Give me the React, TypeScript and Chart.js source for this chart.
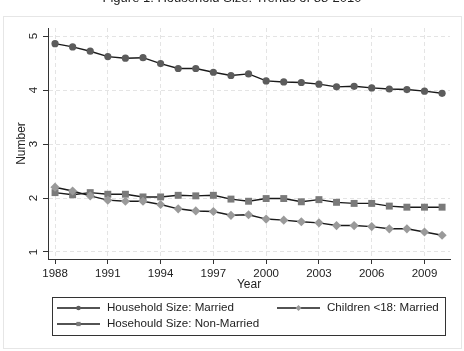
import { useEffect, useRef } from "react";
import { Chart, registerables } from "chart.js";

Chart.register(...registerables);

// Survey years and the three household series
const years = [
  1988, 1989, 1990, 1991, 1992, 1993, 1994, 1995, 1996, 1997, 1998, 1999,
  2000, 2001, 2002, 2003, 2004, 2005, 2006, 2007, 2008, 2009, 2010,
];
const householdMarried = [
  4.86, 4.8, 4.72, 4.62, 4.59, 4.6, 4.49, 4.4, 4.4, 4.33, 4.27, 4.3,
  4.17, 4.15, 4.14, 4.11, 4.06, 4.07, 4.04, 4.02, 4.01, 3.98, 3.94,
];
const childrenMarried = [
  2.2, 2.13, 2.04, 1.96, 1.94, 1.94, 1.88, 1.8, 1.76, 1.75, 1.68, 1.69,
  1.61, 1.59, 1.56, 1.54, 1.49, 1.49, 1.47, 1.43, 1.43, 1.37, 1.31,
];
const householdNonMarried = [
  2.1, 2.06, 2.1, 2.07, 2.07, 2.02, 2.02, 2.05, 2.04, 2.05, 1.98, 1.94,
  1.99, 1.99, 1.93, 1.97, 1.92, 1.9, 1.9, 1.85, 1.83, 1.83, 1.83,
];

const xTicks = [1988, 1991, 1994, 1997, 2000, 2003, 2006, 2009];
const yTicks = [1, 2, 3, 4, 5];

const titleText = "Figure 1: Household Size: Trends of 88-2010";
const xTitle = "Year";
const yTitle = "Number";
const seriesLabels = [
  "Household Size: Married",
  "Children <18: Married",
  "Hosehould Size: Non-Married",
];

const FONT = "'Liberation Sans', Arial, sans-serif";
const TEXT = "#222";
const LINE = "#1a1a1a";
const MARKERS = ["#5c5c5c", "#9a9a9a", "#7a7a7a"];
const STYLES = ["circle", "rectRot", "rect"] as const;
const RADII = [3.6, 4.6, 4.9];
const LEGEND_RADII = [2.3, 3.0, 3.0];

const pairs = (vals: number[]) => years.map((x, i) => ({ x, y: vals[i] }));

// small legend marker in the same shape as the series marker
function legendMarker(ctx: CanvasRenderingContext2D, style: string, x: number, y: number, r: number) {
  ctx.beginPath();
  if (style === "circle") {
    ctx.arc(x, y, r, 0, Math.PI * 2);
  } else if (style === "rectRot") {
    ctx.moveTo(x, y - r);
    ctx.lineTo(x + r, y);
    ctx.lineTo(x, y + r);
    ctx.lineTo(x - r, y);
    ctx.closePath();
  } else {
    const h = r * Math.SQRT1_2;
    ctx.rect(x - h, y - h, 2 * h, 2 * h);
  }
  ctx.fill();
}

// Frame, title, rotated y labels, axis titles and the boxed legend
const decorations = {
  id: "decorations",
  beforeDraw(chart: any) {
    const ctx = chart.ctx;
    ctx.save();
    ctx.fillStyle = "#ffffff";
    ctx.fillRect(0, 0, chart.width, chart.height);
    ctx.strokeStyle = "#e6e6e6";
    ctx.lineWidth = 1;
    ctx.strokeRect(3.5, 16.5, 458, 332);
    ctx.restore();
  },
  afterDraw(chart: any) {
    const ctx = chart.ctx;
    const area = chart.chartArea;
    const ys = chart.scales.y;
    ctx.save();

    ctx.fillStyle = TEXT;
    ctx.font = `13px ${FONT}`;
    ctx.textAlign = "center";
    ctx.textBaseline = "alphabetic";
    ctx.fillText(titleText, 232, 2);

    ctx.font = `11.5px ${FONT}`;
    for (const v of yTicks) {
      const py = ys.getPixelForValue(v);
      ctx.save();
      ctx.translate(34, py);
      ctx.rotate(-Math.PI / 2);
      ctx.textAlign = "center";
      ctx.textBaseline = "middle";
      ctx.fillText(String(v), 0, 0);
      ctx.restore();
    }

    ctx.font = `12px ${FONT}`;
    ctx.save();
    ctx.translate(22, (area.top + area.bottom) / 2);
    ctx.rotate(-Math.PI / 2);
    ctx.textAlign = "center";
    ctx.textBaseline = "middle";
    ctx.fillText(yTitle, 0, 0);
    ctx.restore();

    ctx.textAlign = "center";
    ctx.textBaseline = "middle";
    ctx.fillText(xTitle, (area.left + area.right) / 2, 285);

    // legend box
    ctx.strokeStyle = "#333";
    ctx.lineWidth = 1;
    ctx.strokeRect(52.5, 297.5, 393, 38);
    const slots = [
      { x: 57, y: 308 },
      { x: 277, y: 308 },
      { x: 57, y: 324 },
    ];
    slots.forEach((s, i) => {
      ctx.strokeStyle = LINE;
      ctx.lineWidth = 1.3;
      ctx.beginPath();
      ctx.moveTo(s.x, s.y);
      ctx.lineTo(s.x + 43, s.y);
      ctx.stroke();
      ctx.fillStyle = MARKERS[i];
      legendMarker(ctx, STYLES[i], s.x + 21.5, s.y, LEGEND_RADII[i]);
      ctx.fillStyle = TEXT;
      ctx.font = `11.6px ${FONT}`;
      ctx.textAlign = "left";
      ctx.textBaseline = "middle";
      ctx.fillText(seriesLabels[i], s.x + 50, s.y);
    });

    ctx.restore();
  },
};

export default function App() {
  const ref = useRef<HTMLCanvasElement | null>(null);

  useEffect(() => {
    if (!ref.current) return;
    const series = [householdMarried, childrenMarried, householdNonMarried];
    const chart = new Chart(ref.current, {
      type: "line",
      data: {
        datasets: series.map((vals, i) => ({
          label: seriesLabels[i],
          data: pairs(vals),
          borderColor: LINE,
          borderWidth: 1.4,
          pointStyle: STYLES[i],
          pointRadius: RADII[i],
          pointBackgroundColor: MARKERS[i],
          pointBorderColor: MARKERS[i],
          pointBorderWidth: 0,
          tension: 0,
        })),
      },
      options: {
        responsive: false,
        animation: false,
        devicePixelRatio: 1,
        layout: { padding: { top: 28, right: 14, left: 0, bottom: 62 } },
        plugins: {
          legend: { display: false },
          tooltip: { enabled: false },
          title: { display: false },
        },
        scales: {
          x: {
            type: "linear",
            min: 1987.6,
            max: 2010.45,
            afterBuildTicks: (s: any) => {
              s.ticks = xTicks.map((value) => ({ value }));
            },
            afterFit: (s: any) => {
              s.height = 30;
            },
            grid: {
              color: "#e4e4e4",
              tickColor: "#333",
              tickLength: 5,
              lineWidth: 1,
            },
            border: { color: "#333", width: 1, dash: [4, 3] },
            ticks: {
              color: TEXT,
              font: { family: FONT, size: 11.5 },
              padding: 3,
              maxRotation: 0,
              callback: (v: any) => String(v),
            },
          },
          y: {
            type: "linear",
            min: 0.87,
            max: 5.15,
            afterBuildTicks: (s: any) => {
              s.ticks = yTicks.map((value) => ({ value }));
            },
            afterFit: (s: any) => {
              s.width = 48;
            },
            grid: {
              color: "#e4e4e4",
              tickColor: "#333",
              tickLength: 5,
              lineWidth: 1,
            },
            border: { color: "#333", width: 1, dash: [4, 3] },
            ticks: { display: false },
          },
        },
      },
      plugins: [decorations],
    });
    return () => chart.destroy();
  }, []);

  return (
    <div style={{ position: "absolute", left: 0, top: 0, width: 464, height: 351 }}>
      <canvas ref={ref} width={464} height={351} style={{ display: "block" }} />
    </div>
  );
}
